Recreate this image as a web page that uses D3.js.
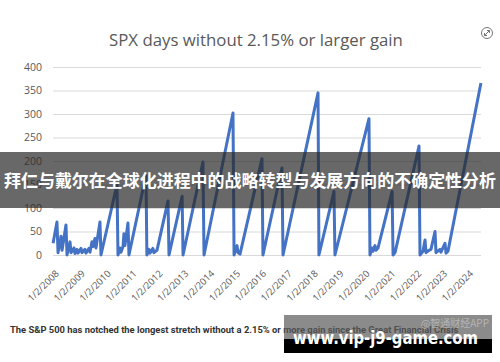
<!DOCTYPE html>
<html>
<head>
<meta charset="utf-8">
<script src="https://cdn.jsdelivr.net/npm/d3@7"></script>
<style>
  body { margin: 0; background: #fff; }
  svg { display: block; }
</style>
</head>
<body>
<div id="wrapper"></div>
<script>
// vertices of the day counter
const dates = [
  "2008-01-02","2008-02-26","2008-03-12","2008-04-23","2008-05-08","2008-07-02","2008-07-17","2008-08-28",
  "2008-09-11","2008-10-23","2008-11-06","2008-12-04","2008-12-18","2009-01-30","2009-02-13","2009-03-27",
  "2009-04-10","2009-05-23","2009-06-06","2009-07-04","2009-07-18","2009-08-15","2009-08-29","2009-10-25",
  "2009-11-08","2010-06-22","2010-07-06","2010-08-03","2010-08-17","2010-09-15","2010-09-28","2010-10-12",
  "2010-11-24","2010-12-08","2011-08-05","2011-08-18","2011-09-16","2011-09-30","2011-11-11","2011-11-25",
  "2012-01-07","2012-06-11","2012-06-25","2012-12-27","2013-01-09","2013-10-17","2013-11-01","2014-12-15",
  "2014-12-30","2015-02-10","2015-02-24","2015-03-24","2016-01-28","2016-02-11","2016-11-05","2016-11-20",
  "2018-03-29","2018-04-11","2018-11-09","2018-11-23","2020-03-17","2020-03-31","2020-04-28","2020-05-13",
  "2020-06-10","2020-06-24","2020-07-23","2021-02-06","2021-02-20","2021-03-20","2022-02-21","2022-03-07",
  "2022-04-18","2022-05-17","2022-05-31","2022-07-12","2022-08-09","2022-10-05","2022-10-19","2022-12-14",
  "2022-12-28","2023-02-23","2023-03-09","2023-04-06","2024-07-14"
]
const days = [
  25,70,5,40,10,64,0,28,
  5,15,3,12,4,14,5,12,
  4,14,6,28,18,35,15,70,
  0,150,0,15,6,18,45,20,
  68,0,170,0,12,4,14,5,
  10,115,0,125,0,198,0,302,
  0,20,5,2,205,0,185,0,
  345,0,135,0,290,0,15,8,
  20,10,15,135,0,5,232,0,
  8,32,5,10,12,50,5,12,
  6,25,4,8,366
]
const yTicks = [0, 50, 100, 150, 200, 250, 300, 350, 400]
const xTickYears = d3.range(2008, 2025)

const title = "SPX days without 2.15% or larger gain"
const caption = "The S&P 500 has notched the longest stretch without a 2.15% or more gain since the Great Financial Crisis"
const banner = "拜仁与戴尔在全球化进程中的战略转型与发展方向的不确定性分析"
const siteMark = "www.vip-j9-game.com"
const appMark = "@智通财经APP"

const parseDate = d3.timeParse("%Y-%m-%d")
const dataset = dates.map((d, i) => ({ date: parseDate(d), value: days[i] }))

let dimensions = {
  width: 500,
  height: 362,
  margin: { top: 67, left: 53, right: 19, bottom: 107 }
}
dimensions.boundedWidth = dimensions.width - dimensions.margin.left - dimensions.margin.right
dimensions.boundedHeight = dimensions.height - dimensions.margin.top - dimensions.margin.bottom

const svg = d3.select("#wrapper")
  .append("svg")
  .attr("width", dimensions.width)
  .attr("height", dimensions.height)

// title
svg.append("text")
  .attr("x", 256)
  .attr("y", 46)
  .attr("text-anchor", "middle")
  .attr("fill", "#595959")
  .style("font-family", "Open Sans, sans-serif")
  .style("font-size", "16.8px")
  .text(title)

// expand icon
const icon = svg.append("g").attr("transform", "translate(487,33)")
  .attr("fill", "none").attr("stroke", "#666").attr("stroke-width", 0.9)
icon.append("circle").attr("r", 5.5)
icon.append("path").attr("d", "M-2.5,2.5 L2.5,-2.5 M0,-2.5 L2.5,-2.5 L2.5,0 M-2.5,0 L-2.5,2.5 L0,2.5")

const bounds = svg.append("g")
  .attr("transform", `translate(${dimensions.margin.left},${dimensions.margin.top})`)

const xScale = d3.scaleTime()
  .domain([new Date(2008, 0, 1), new Date(2024, 6, 15)])
  .range([0, dimensions.boundedWidth])

const yScale = d3.scaleLinear()
  .domain([0, 400])
  .range([dimensions.boundedHeight, 0])

// grid + y labels
const yAxis = d3.axisLeft(yScale)
  .tickValues(yTicks)
  .tickSize(-dimensions.boundedWidth)
  .tickPadding(11)
bounds.append("g")
  .call(yAxis)
  .call(g => g.select(".domain").remove())
  .call(g => g.selectAll("line").attr("stroke", "#d9d9d9").attr("stroke-width", 1))
  .call(g => g.selectAll("text")
    .attr("fill", "#595959")
    .style("font-family", "Open Sans, sans-serif")
    .style("font-size", "10.5px"))

// x labels
const xAxis = d3.axisBottom(xScale)
  .tickValues(xTickYears.map(y => new Date(y, 0, 2)))
  .tickSize(0)
  .tickFormat(d3.timeFormat("%-m/%-d/%Y"))
bounds.append("g")
  .attr("transform", `translate(0,${dimensions.boundedHeight})`)
  .call(xAxis)
  .call(g => g.select(".domain").remove())
  .call(g => g.selectAll("text")
    .attr("fill", "#595959")
    .attr("text-anchor", "end")
    .attr("dy", 0)
    .attr("transform", "translate(4,17) rotate(-45)")
    .style("font-family", "Open Sans, sans-serif")
    .style("font-size", "9.5px"))

// line
const lineGenerator = d3.line()
  .x(d => xScale(d.date))
  .y(d => yScale(d.value))
bounds.append("path")
  .datum(dataset)
  .attr("d", lineGenerator)
  .attr("fill", "none")
  .attr("stroke", "#4472c4")
  .attr("stroke-width", 3)
  .attr("stroke-linejoin", "round")

// caption
svg.append("text")
  .attr("x", 10)
  .attr("y", 333)
  .attr("fill", "#333")
  .style("font-family", "Roboto, sans-serif")
  .style("font-weight", "bold")
  .style("font-size", "9.4px")
  .text(caption)

// overlay banner
svg.append("rect")
  .attr("x", 0).attr("y", 152)
  .attr("width", 500).attr("height", 56)
  .attr("fill", "rgba(40,40,40,0.7)")
svg.append("text")
  .attr("x", 250)
  .attr("y", 187)
  .attr("text-anchor", "middle")
  .attr("fill", "#fff")
  .attr("textLength", 492)
  .attr("lengthAdjust", "spacingAndGlyphs")
  .style("font-family", "Noto Sans CJK SC, sans-serif")
  .style("font-weight", "bold")
  .style("font-size", "17px")
  .text(banner)

// bottom watermark box
svg.append("rect")
  .attr("x", 284).attr("y", 315)
  .attr("width", 208).attr("height", 24)
  .attr("fill", "rgba(90,90,90,0.7)")
svg.append("rect")
  .attr("x", 284).attr("y", 339)
  .attr("width", 208).attr("height", 14)
  .attr("fill", "#000")
svg.append("text")
  .attr("x", 489).attr("y", 327)
  .attr("text-anchor", "end")
  .attr("fill", "rgba(200,200,200,0.7)")
  .style("font-family", "Noto Sans CJK SC, sans-serif")
  .style("font-size", "10px")
  .text(appMark)
svg.append("text")
  .attr("x", 293).attr("y", 344)
  .attr("fill", "#fff")
  .attr("textLength", 185)
  .attr("lengthAdjust", "spacingAndGlyphs")
  .style("font-family", "DejaVu Sans, sans-serif")
  .style("font-weight", "bold")
  .style("font-size", "17px")
  .text(siteMark)
</script>
</body>
</html>
